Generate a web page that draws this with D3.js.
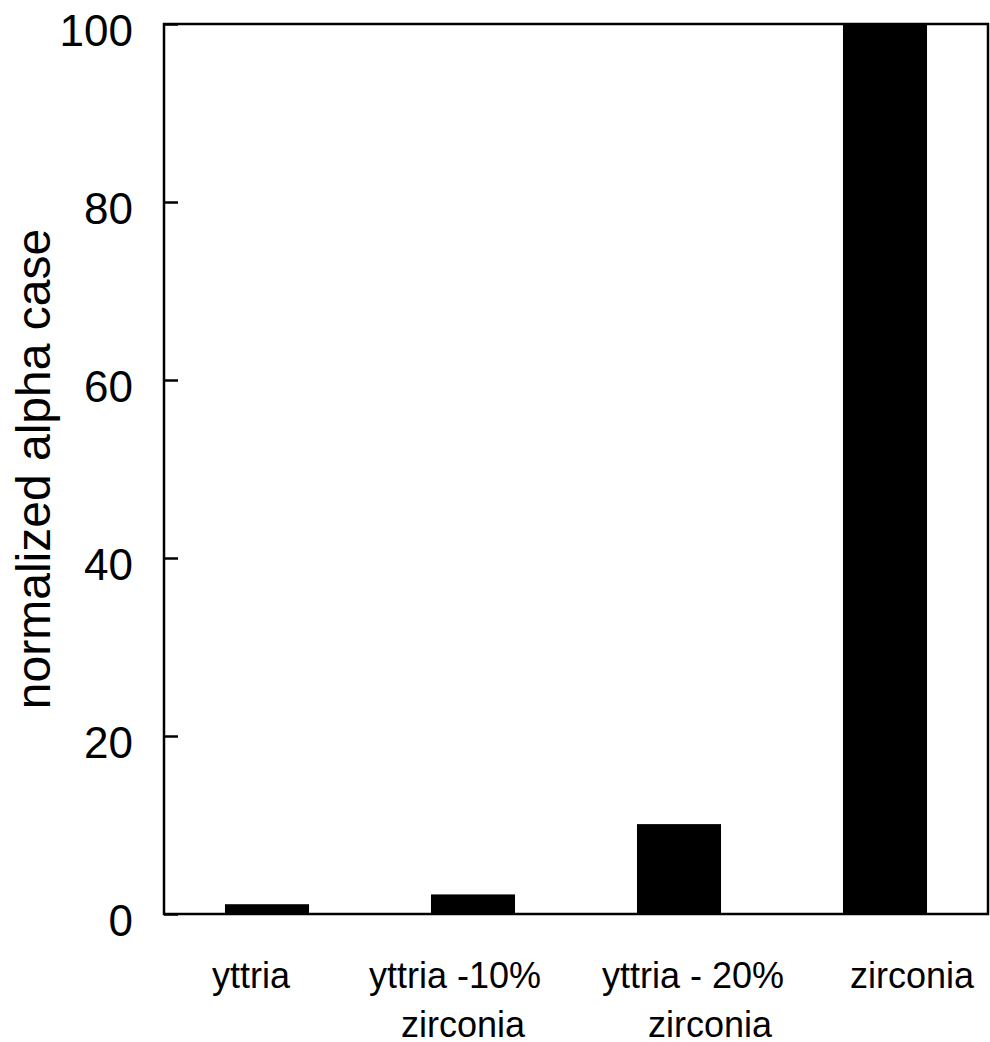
<!DOCTYPE html>
<html>
<head>
<meta charset="utf-8">
<script src="https://cdn.jsdelivr.net/npm/d3@7"></script>
<style>
  html, body { margin: 0; padding: 0; background: #fff; }
  svg { display: block; }
  text { font-family: "Liberation Sans", Arial, sans-serif; fill: #000; }
</style>
</head>
<body>
<svg id="chart" width="990" height="1042"></svg>
<script>
// ---- data ----
const categories = ["yttria", "yttria -10%\nzirconia", "yttria - 20%\nzirconia", "zirconia"];
const values = [1.1, 2.2, 10.1, 100];
const yTicks = [0, 20, 40, 60, 80, 100];
const yLabel = "normalized alpha case";

// ---- layout ----
const plot = { left: 164, right: 988, top: 24, bottom: 914 };
const labelShiftLine1 = [-16, -18, 14, 27];
const labelShiftLine2 = [0, -10, 31, 0];

const svg = d3.select("#chart");

const x = d3.scaleBand()
  .domain(categories)
  .range([plot.left, plot.right])
  .paddingInner(0.592)
  .paddingOuter(0.296);

const y = d3.scaleLinear()
  .domain([0, 100])
  .range([plot.bottom, plot.top]);

// bars
svg.append("g")
  .selectAll("rect")
  .data(categories)
  .join("rect")
  .attr("x", d => x(d))
  .attr("width", x.bandwidth())
  .attr("y", (d, i) => y(values[i]))
  .attr("height", (d, i) => y(0) - y(values[i]))
  .attr("fill", "#000");

// frame
svg.append("rect")
  .attr("x", plot.left)
  .attr("y", plot.top)
  .attr("width", plot.right - plot.left)
  .attr("height", plot.bottom - plot.top)
  .attr("fill", "none")
  .attr("stroke", "#000")
  .attr("stroke-width", 2.5);

// y axis (ticks inward)
const yAxis = d3.axisLeft(y).tickValues(yTicks).tickSize(-14).tickPadding(31).tickFormat(d3.format("d"));
const gy = svg.append("g").attr("transform", `translate(${plot.left},0)`).call(yAxis);
gy.select(".domain").remove();
gy.selectAll(".tick line").attr("stroke", "#000").attr("stroke-width", 2.5);
gy.selectAll(".tick text")
  .attr("font-size", 44)
  .attr("font-family", "'Liberation Sans', Arial, sans-serif")
  .attr("dy", null)
  .attr("y", 21)
  .attr("fill", "#000");

// x labels
const xl = svg.append("g");
categories.forEach((c, i) => {
  const lines = c.split("\n");
  const cx = x(c) + x.bandwidth() / 2;
  lines.forEach((ln, j) => {
    xl.append("text")
      .attr("x", cx + (j === 0 ? labelShiftLine1[i] : labelShiftLine2[i]))
      .attr("y", 988 + j * 49)
      .attr("text-anchor", "middle")
      .attr("font-size", 36)
      .text(ln);
  });
});

// y label
svg.append("text")
  .attr("transform", `translate(50,${(plot.top + plot.bottom) / 2}) rotate(-90)`)
  .attr("text-anchor", "middle")
  .attr("font-size", 48)
  .text(yLabel);
</script>
</body>
</html>
